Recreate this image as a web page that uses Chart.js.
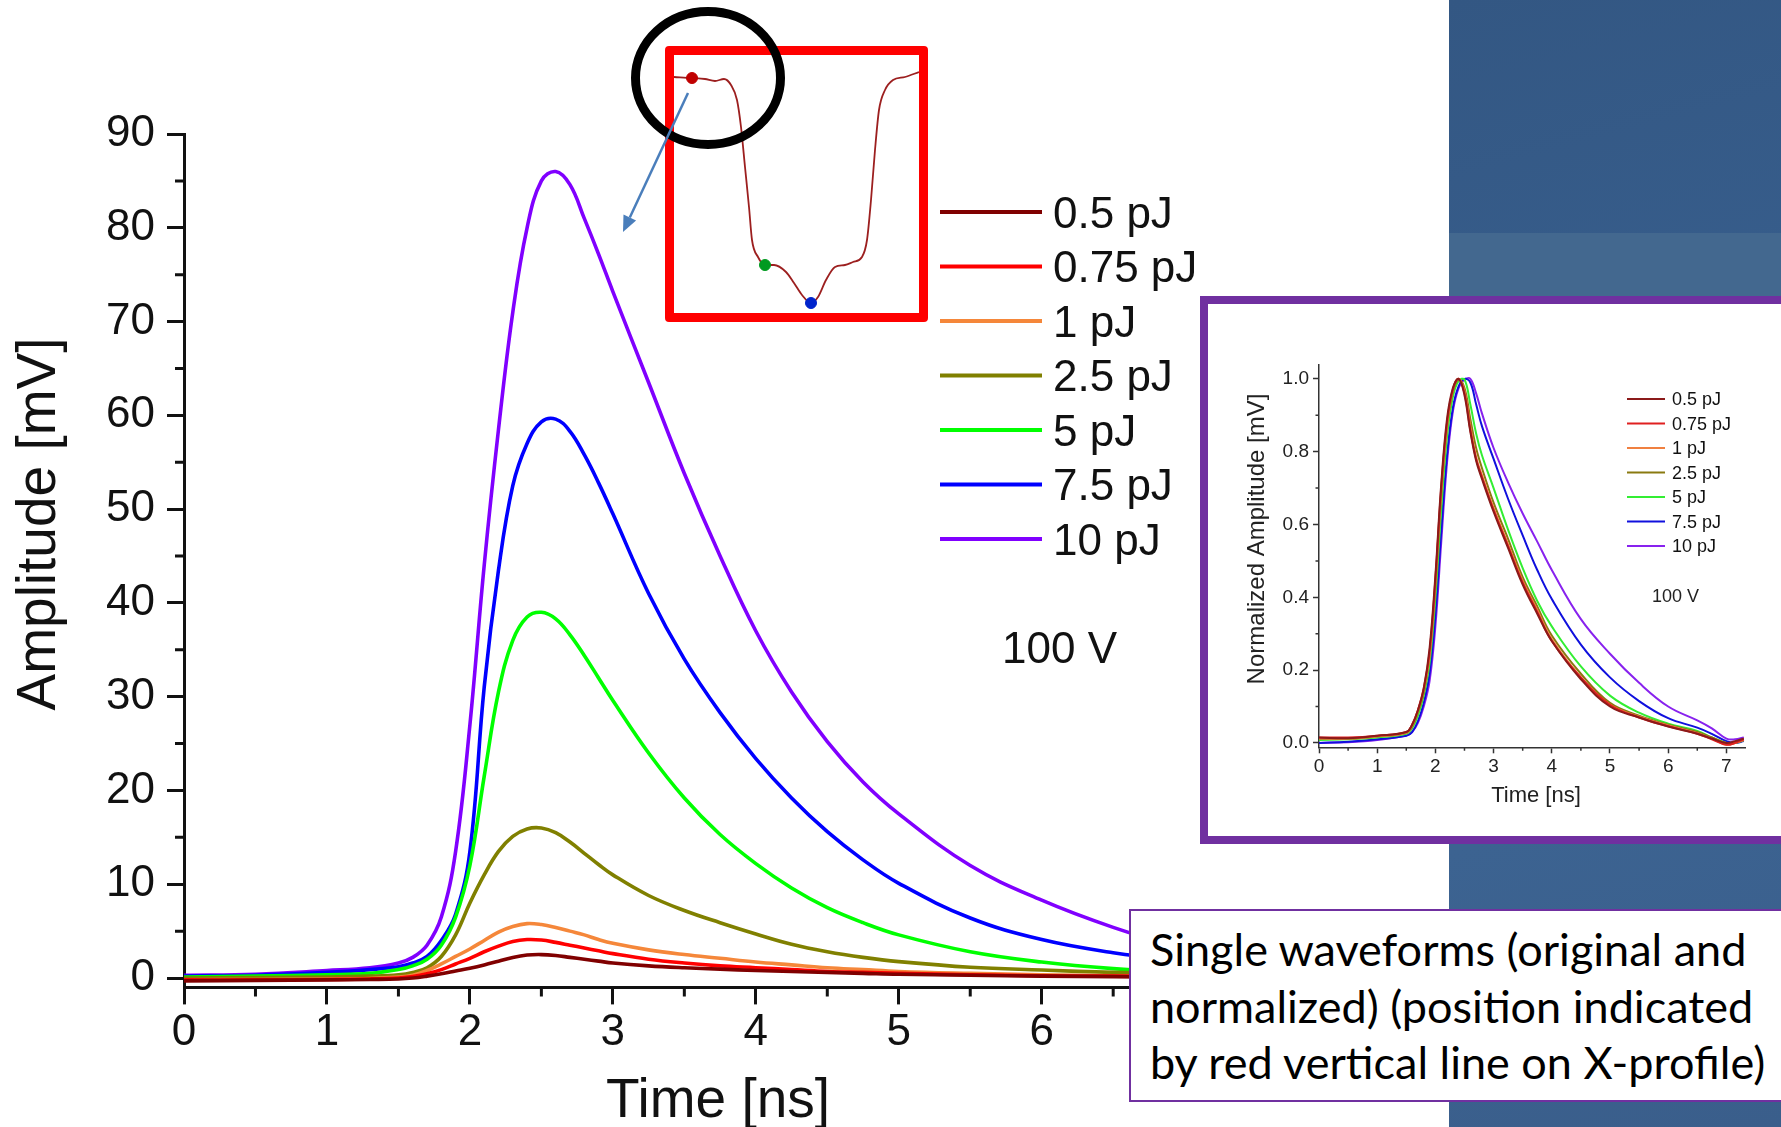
<!DOCTYPE html>
<html>
<head>
<meta charset="utf-8">
<script src="https://cdn.jsdelivr.net/npm/chart.js@4.4.1/dist/chart.umd.min.js"></script>
<style>
    html, body { margin: 0; padding: 0; width: 1781px; height: 1127px; overflow: hidden; background: #fff; }
    .abs { position: absolute; }
    #bg { left: 1449px; top: 0; width: 332px; height: 1127px; z-index: 1;
          background: linear-gradient(165deg, #335783 0%, #3a6292 55%, #3c6391 70%, #3a5e8b 100%); }
    #band { left: 1449px; top: 233px; width: 332px; height: 63px; z-index: 2; background: #43688f; }
    #main-chart { left: 0; top: 0; z-index: 3; }
    #profile-box { left: 665px; top: 46px; width: 263px; height: 276px; z-index: 4; box-sizing: border-box;
                   border: 9px solid #ff0000; border-radius: 4px; background: #fff; }
    #profile-box canvas { position: absolute; left: 0; top: 0; }
    #marks { left: 0; top: 0; z-index: 5; pointer-events: none; }
    #inset-box { left: 1200px; top: 296px; width: 640px; height: 548px; z-index: 6; box-sizing: border-box;
                 border: 8px solid #7030a0; background: #fff; }
    #inset-box canvas { position: absolute; left: 0; top: 0; }
    #note { left: 1129px; top: 909px; width: 700px; height: 193px; z-index: 7; box-sizing: border-box;
            border: 2px solid #7030a0; background: #fff; color: #000; font-family: Lato, "Open Sans", sans-serif; }
    #note .ln { position: absolute; left: 19px; white-space: nowrap; line-height: 1; }
</style>
</head>
<body>
<div id="bg" class="abs"></div>
<div id="band" class="abs"></div>
<canvas id="main-chart" class="abs" width="1781" height="1127"></canvas>
<div id="profile-box" class="abs"><canvas id="profile-chart" width="245" height="258"></canvas></div>
<svg id="marks" class="abs" width="1781" height="1127">
    <ellipse cx="708" cy="78" rx="72.5" ry="66.5" fill="none" stroke="#000" stroke-width="9"/>
    <line x1="688" y1="93" x2="629.8" y2="217.5" stroke="#4a7ebb" stroke-width="2.5"/>
    <polygon points="623,232 636.1,220.5 623.5,214.5" fill="#4a7ebb"/>
</svg>
<div id="inset-box" class="abs"><canvas id="norm-chart" width="573" height="532"></canvas></div>
<div id="note" class="abs">
    <div class="ln">Single waveforms (original and</div>
    <div class="ln">normalized) (position indicated</div>
    <div class="ln">by red vertical line on X-profile)</div>
</div>

<script>
const FONT = '"Liberation Sans", Arial, sans-serif';

const energyLabels = ['0.5 pJ', '0.75 pJ', '1 pJ', '2.5 pJ', '5 pJ', '7.5 pJ', '10 pJ'];
const mainColors = ['#800000', '#ff0000', '#f5873a', '#808000', '#00ff00', '#0000ff', '#8000ff'];
const normColors = ['#8b1a1a', '#e02020', '#f08040', '#8a7a10', '#33ee33', '#1010dd', '#8822ee'];

// waveforms in mV, time in ns
const tMain = [0, 0.5, 1.0, 1.3, 1.5, 1.6, 1.7, 1.8, 1.9, 2.0, 2.1, 2.2, 2.3, 2.4, 2.5, 2.6, 2.7, 2.8, 2.9, 3.0,
               3.25, 3.5, 3.75, 4.0, 4.25, 4.5, 4.75, 5.0, 5.5, 6.0, 6.5, 7.0, 7.3];
const amp05 = [-0.3, -0.25, -0.2, -0.15, -0.1, 0, 0.2, 0.45, 0.75, 1.05, 1.4, 1.8, 2.2, 2.45, 2.5, 2.4, 2.2, 2.0, 1.8, 1.6,
               1.3, 1.1, 0.95, 0.8, 0.7, 0.6, 0.5, 0.4, 0.3, 0.2, 0.15, 0.1, 0.1];
const amp075 = [-0.2, -0.2, -0.15, -0.1, 0, 0.15, 0.45, 0.9, 1.5, 2.1, 2.8, 3.4, 3.9, 4.1, 4.05, 3.8, 3.5, 3.2, 2.9, 2.6,
                2.0, 1.6, 1.3, 1.1, 0.9, 0.7, 0.6, 0.5, 0.35, 0.25, 0.2, 0.15, 0.1];
const amp1 = [-0.2, -0.15, -0.1, -0.05, 0.1, 0.3, 0.8, 1.5, 2.3, 3.1, 4.0, 4.9, 5.5, 5.8, 5.7, 5.4, 5.0, 4.6, 4.1, 3.7,
              3.0, 2.5, 2.1, 1.7, 1.4, 1.1, 0.9, 0.7, 0.5, 0.35, 0.25, 0.2, 0.15];
const amp25 = [0.0, 0.05, 0.1, 0.2, 0.35, 0.6, 1.1, 2.3, 4.6, 8.0, 11, 13.5, 15.1, 15.9, 16, 15.5, 14.5, 13.3, 12.1, 11,
               8.8, 7.2, 5.9, 4.7, 3.6, 2.8, 2.2, 1.75, 1.15, 0.85, 0.6, 0.45, 0.35];
const amp5 = [0.1, 0.2, 0.35, 0.5, 0.9, 1.3, 2.0, 3.5, 6.5, 12, 21.5, 30.5, 36, 38.5, 39, 38.3, 36.6, 34.4, 32, 29.6,
              24, 19.2, 15.3, 12.2, 9.6, 7.5, 5.9, 4.6, 2.8, 1.7, 1.0, 0.6, 0.4];
const amp75 = [0.2, 0.3, 0.6, 0.9, 1.2, 1.6, 2.3, 4.0, 6.8, 13.5, 31, 43.5, 52.5, 57, 59.3, 59.6, 58.3, 55.8, 52.8, 49.5,
               41, 34, 28.3, 23.4, 19.2, 15.6, 12.6, 10.1, 6.4, 4.1, 2.7, 1.8, 1.4];
const amp10 = [0.3, 0.4, 0.8, 1.1, 1.6, 2.2, 3.5, 6.5, 13.5, 27, 44, 58.5, 71, 80, 85, 86, 84.6, 81, 77.2, 73.2,
               63.5, 53.8, 45, 37, 30.5, 25.2, 20.9, 17.5, 12, 8.3, 5.4, 3.1, 2.0];

// normalized waveforms
const tNorm = [0, 0.5, 1.0, 1.5, 1.6, 1.7, 1.8, 1.9, 2.0, 2.1, 2.2, 2.3, 2.4, 2.5, 2.6, 2.7, 2.8, 3.0, 3.25, 3.5,
               3.75, 4.0, 4.5, 5.0, 5.5, 6.0, 6.5, 6.75, 7.0, 7.15, 7.3];
const norm05 = [0.015, 0.013, 0.02, 0.03, 0.05, 0.09, 0.15, 0.26, 0.46, 0.71, 0.89, 0.975, 1.0, 0.955, 0.855, 0.775, 0.725,
                0.635, 0.535, 0.435, 0.355, 0.28, 0.175, 0.1, 0.07, 0.045, 0.025, 0.012, 0.0, 0.005, 0.012];
const norm075 = [0.015, 0.015, 0.02, 0.03, 0.05, 0.09, 0.15, 0.25, 0.45, 0.7, 0.88, 0.97, 1.0, 0.96, 0.86, 0.78, 0.73,
                 0.64, 0.54, 0.44, 0.36, 0.28, 0.18, 0.105, 0.07, 0.046, 0.025, 0.01, -0.005, 0.0, 0.01];
const norm1 = [0.012, 0.012, 0.018, 0.028, 0.048, 0.088, 0.145, 0.24, 0.44, 0.69, 0.87, 0.97, 1.0, 0.965, 0.87, 0.785, 0.735,
               0.645, 0.545, 0.445, 0.365, 0.285, 0.18, 0.105, 0.072, 0.048, 0.027, 0.012, -0.005, 0.0, 0.008];
const norm25 = [0.012, 0.012, 0.018, 0.028, 0.045, 0.085, 0.14, 0.24, 0.43, 0.68, 0.87, 0.965, 0.998, 0.975, 0.89, 0.81, 0.755,
                0.66, 0.56, 0.455, 0.375, 0.295, 0.19, 0.11, 0.075, 0.05, 0.03, 0.015, 0.0, 0.0, 0.008];
const norm5 = [0.008, 0.01, 0.015, 0.025, 0.04, 0.075, 0.13, 0.22, 0.4, 0.64, 0.84, 0.95, 0.995, 0.998, 0.93, 0.85, 0.79,
               0.7, 0.585, 0.48, 0.39, 0.32, 0.21, 0.13, 0.083, 0.053, 0.033, 0.015, 0.0, 0.0, 0.008];
const norm75 = [0.0, 0.003, 0.01, 0.02, 0.03, 0.06, 0.11, 0.19, 0.35, 0.58, 0.79, 0.92, 0.98, 1.0, 0.99, 0.93, 0.87,
                0.78, 0.67, 0.57, 0.475, 0.395, 0.27, 0.18, 0.115, 0.068, 0.042, 0.025, 0.005, 0.0, 0.005];
const norm10 = [0.0, 0.002, 0.008, 0.02, 0.03, 0.055, 0.1, 0.17, 0.32, 0.55, 0.77, 0.91, 0.975, 0.998, 1.0, 0.96, 0.905,
                0.81, 0.715, 0.63, 0.553, 0.475, 0.34, 0.245, 0.165, 0.1, 0.062, 0.04, 0.012, 0.01, 0.015];

// X-profile across the sample (position, signal), with the three marked positions
const profilePos = [0, 18, 31, 41, 50, 57, 63, 67, 71, 75, 78, 84, 91, 100, 112, 120, 128, 137, 144, 152,
                    161, 171, 179, 188, 193, 197, 201, 205, 211, 219, 231, 245];
const profileSignal = [236, 235, 234, 232, 234, 228, 213, 186, 146, 106, 73, 56, 48, 48, 41, 30, 18, 10, 16, 33,
                       46, 48, 51, 56, 73, 113, 163, 203, 223, 233, 236, 241];
const markerIndex = [1, 12, 17];
const markerColors = ['#c00000', '#009a20', '#0024cc'];

const voltageLabel = '100 V';

const mainSeries = [amp05, amp075, amp1, amp25, amp5, amp75, amp10];
const normSeries = [norm05, norm075, norm1, norm25, norm5, norm75, norm10];

function toPoints(xs, ys) {
    return ys.map((y, i) => ({ x: xs[i], y: y }));
}

function drawLegend(ctx, chart, o) {
    ctx.save();
    ctx.font = `${o.size}px ${FONT}`;
    ctx.textAlign = 'left';
    ctx.textBaseline = 'alphabetic';
    chart.data.datasets.forEach((ds, i) => {
        const y = o.top + i * o.step;
        ctx.strokeStyle = ds.borderColor;
        ctx.lineWidth = o.lineWidth;
        ctx.beginPath();
        ctx.moveTo(o.lineStart, y);
        ctx.lineTo(o.lineEnd, y);
        ctx.stroke();
        ctx.fillStyle = '#111';
        ctx.fillText(ds.label, o.textX, y + o.size * 0.36);
    });
    ctx.restore();
}

function minorTicks(ctx, chart, o) {
    const { chartArea: a, scales: { x, y } } = chart;
    ctx.save();
    ctx.strokeStyle = o.color;
    ctx.lineWidth = o.width;
    ctx.beginPath();
    for (let v = o.yFrom; v < y.max; v += o.yStep) {
        const py = y.getPixelForValue(v);
        ctx.moveTo(a.left - o.len, py);
        ctx.lineTo(a.left, py);
    }
    for (let t = o.xFrom; t < x.max; t += o.xStep) {
        const px = x.getPixelForValue(t);
        ctx.moveTo(px, a.bottom);
        ctx.lineTo(px, a.bottom + o.len);
    }
    ctx.stroke();
    ctx.restore();
}

const mainDecor = {
    id: 'mainDecor',
    afterDraw(chart) {
        const ctx = chart.ctx;
        minorTicks(ctx, chart, { color: '#111', width: 3, len: 9, yFrom: 5, yStep: 10, xFrom: 0.5, xStep: 1 });

        ctx.save();
        ctx.fillStyle = '#111';
        ctx.font = `55px ${FONT}`;
        ctx.textAlign = 'center';
        ctx.textBaseline = 'alphabetic';
        ctx.fillText('Time [ns]', 718, 1117);
        ctx.translate(55, 524);
        ctx.rotate(-Math.PI / 2);
        ctx.fillText('Amplitude [mV]', 0, 0);
        ctx.restore();

        drawLegend(ctx, chart, { top: 212, step: 54.5, lineStart: 940, lineEnd: 1042, textX: 1053, size: 44, lineWidth: 4 });

        ctx.save();
        ctx.fillStyle = '#111';
        ctx.font = `44px ${FONT}`;
        ctx.fillText(voltageLabel, 1002, 663);
        ctx.restore();
    }
};

const normDecor = {
    id: 'normDecor',
    afterDraw(chart) {
        const ctx = chart.ctx;
        minorTicks(ctx, chart, { color: '#333', width: 1.5, len: 3.5, yFrom: 0.1, yStep: 0.2, xFrom: 0.5, xStep: 1 });

        ctx.save();
        ctx.fillStyle = '#222';
        ctx.textAlign = 'center';
        ctx.textBaseline = 'alphabetic';
        ctx.font = `22px ${FONT}`;
        ctx.fillText('Time [ns]', 328, 498);
        ctx.font = `24px ${FONT}`;
        ctx.translate(56, 235);
        ctx.rotate(-Math.PI / 2);
        ctx.fillText('Normalized Amplitude [mV]', 0, 0);
        ctx.restore();

        drawLegend(ctx, chart, { top: 95, step: 24.5, lineStart: 419, lineEnd: 457, textX: 464, size: 18, lineWidth: 2 });

        ctx.save();
        ctx.fillStyle = '#222';
        ctx.font = `18px ${FONT}`;
        ctx.fillText(voltageLabel, 444, 298);
        ctx.restore();
    }
};

const commonOptions = {
    responsive: false,
    animation: false,
    events: [],
    plugins: { legend: { display: false }, tooltip: { enabled: false } }
};

new Chart(document.getElementById('main-chart'), {
    type: 'line',
    data: {
        datasets: mainSeries.map((vals, i) => ({
            label: energyLabels[i],
            data: toPoints(tMain, vals),
            borderColor: mainColors[i],
            borderWidth: 3.6,
            pointRadius: 0,
            tension: 0.4
        }))
    },
    options: {
        ...commonOptions,
        layout: { autoPadding: false, padding: { left: 0, top: 134, right: 532, bottom: 0 } },
        scales: {
            x: {
                type: 'linear',
                min: 0,
                max: 7.45,
                border: { color: '#111', width: 3 },
                grid: { drawOnChartArea: false, tickLength: 17, tickWidth: 3, tickColor: '#111' },
                ticks: {
                    stepSize: 1, includeBounds: false, padding: 2, autoSkip: false, maxRotation: 0,
                    color: '#111', font: { family: FONT, size: 44 }
                },
                afterFit: s => { s.height = 139.6; }
            },
            y: {
                min: -1,
                max: 90,
                border: { color: '#111', width: 3 },
                grid: { drawOnChartArea: false, tickLength: 17, tickWidth: 3, tickColor: '#111' },
                ticks: {
                    stepSize: 10, includeBounds: false, padding: 12,
                    color: '#111', font: { family: FONT, size: 44 }
                },
                afterFit: s => { s.width = 184; }
            }
        }
    },
    plugins: [mainDecor]
});

new Chart(document.getElementById('profile-chart'), {
    type: 'line',
    data: {
        datasets: [
            {
                data: toPoints(profilePos, profileSignal),
                borderColor: '#9c1f1f',
                borderWidth: 1.8,
                pointRadius: 0,
                cubicInterpolationMode: 'monotone',
                order: 2
            },
            {
                type: 'scatter',
                data: markerIndex.map(i => ({ x: profilePos[i], y: profileSignal[i] })),
                backgroundColor: markerColors,
                borderColor: markerColors,
                pointRadius: 5.5,
                order: 1
            }
        ]
    },
    options: {
        ...commonOptions,
        layout: { autoPadding: false, padding: 0 },
        scales: {
            x: { type: 'linear', min: 0, max: 245, display: false },
            y: { min: 0, max: 258, display: false }
        }
    }
});

new Chart(document.getElementById('norm-chart'), {
    type: 'line',
    data: {
        datasets: normSeries.map((vals, i) => ({
            label: energyLabels[i],
            data: toPoints(tNorm, vals),
            borderColor: normColors[i],
            borderWidth: 2,
            pointRadius: 0,
            tension: 0.4
        }))
    },
    options: {
        ...commonOptions,
        layout: { autoPadding: false, padding: { left: 0, top: 61, right: 36, bottom: 0 } },
        scales: {
            x: {
                type: 'linear',
                min: 0,
                max: 7.32,
                border: { color: '#333', width: 1.5 },
                grid: { drawOnChartArea: false, tickLength: 6, tickWidth: 1.5, tickColor: '#333' },
                ticks: {
                    stepSize: 1, includeBounds: false, padding: 2, autoSkip: false, maxRotation: 0,
                    color: '#222', font: { family: FONT, size: 19 }
                },
                afterFit: s => { s.height = 88.7; }
            },
            y: {
                min: -0.012,
                max: 1.038,
                border: { color: '#333', width: 1.5 },
                grid: { drawOnChartArea: false, tickLength: 6, tickWidth: 1.5, tickColor: '#333' },
                ticks: {
                    stepSize: 0.2, includeBounds: false, padding: 4,
                    color: '#222', font: { family: FONT, size: 19 },
                    callback: v => v.toFixed(1)
                },
                afterFit: s => { s.width = 111; }
            }
        }
    },
    plugins: [normDecor]
});

// size the note text so its middle line spans the box width
const noteLines = document.querySelectorAll('#note .ln');
const measure = document.createElement('canvas').getContext('2d');
measure.font = '100px Lato, "Open Sans", sans-serif';
const noteSize = 100 * 603 / measure.measureText(noteLines[1].textContent).width;
const noteCenters = [41, 98, 154];
noteLines.forEach((el, i) => {
    el.style.fontSize = noteSize.toFixed(1) + 'px';
    el.style.top = (noteCenters[i] - noteSize * 0.55).toFixed(1) + 'px';
});
</script>
</body>
</html>
